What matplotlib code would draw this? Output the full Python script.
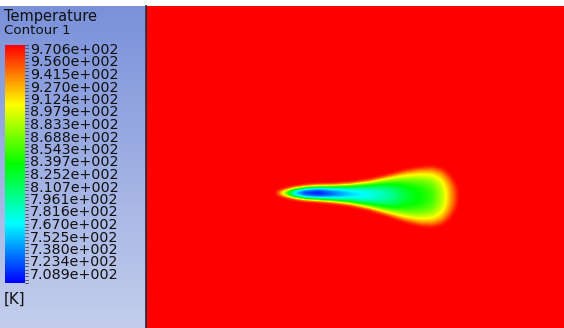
import numpy as np
import matplotlib
matplotlib.use("Agg")
import matplotlib.pyplot as plt
from matplotlib.colors import LinearSegmentedColormap, Normalize

# ---- data ----
legend_title = "Temperature"
legend_sub = "Contour 1"
unit_label = "[K]"
tick_values = [970.6, 956.0, 941.5, 927.0, 912.4, 897.9, 883.3, 868.8, 854.3, 839.7,
               825.2, 810.7, 796.1, 781.6, 767.0, 752.5, 738.0, 723.4, 708.9]
tick_labels = ["9.706e+002", "9.560e+002", "9.415e+002", "9.270e+002", "9.124e+002",
               "8.979e+002", "8.833e+002", "8.688e+002", "8.543e+002", "8.397e+002",
               "8.252e+002", "8.107e+002", "7.961e+002", "7.816e+002", "7.670e+002",
               "7.525e+002", "7.380e+002", "7.234e+002", "7.089e+002"]
t_min, t_max = 708.9, 970.6

# plume description along its axis (domain pixel coordinates)
plume_x = [276, 285, 295, 305, 318, 333, 350, 370, 390, 405, 420, 432, 442, 450, 458]
plume_centre_T = [960, 870, 760, 720, 710, 735, 762, 778, 800, 825, 840, 855, 885, 925, 965]
plume_half_width = [2, 4, 6, 7.5, 8.5, 9.5, 11.5, 15.5, 21.5, 26.5, 30, 31, 29, 23, 11]
plume_centre_y = [193, 193, 193, 193, 193, 193.5, 194, 194.8, 195.5, 196, 196.5, 196.5, 196.5, 196.5, 196.5]

# ---- figure ----
W, H = 564, 328
fig = plt.figure(figsize=(W / 100, H / 100), dpi=100)
ax = fig.add_axes([0, 0, 1, 1])
ax.set_xlim(0, W)
ax.set_ylim(H, 0)
ax.axis("off")

cmap = LinearSegmentedColormap.from_list(
    "ansys_rainbow", ["#0000ff", "#00ffff", "#00ff00", "#ffff00", "#ff0000"])
norm = Normalize(t_min, t_max)

# left panel gradient background
top_c = np.array([122, 145, 218]) / 255
bot_c = np.array([196, 206, 236]) / 255
t = np.linspace(0, 1, 200)[:, None, None]
grad = (top_c * (1 - t) + bot_c * t) * np.ones((1, 2, 1))
ax.imshow(grad, extent=[0, 145, H, 6], aspect="auto", interpolation="bilinear", zorder=0)

# temperature field
x0, x1, y0, y1 = 146, W, 6, H
xs = np.arange(x0, x1) + 0.5
ys = np.arange(y0, y1) + 0.5
X, Y = np.meshgrid(xs, ys)
inside = (xs >= plume_x[0]) & (xs <= plume_x[-1])
tc = np.interp(xs, plume_x, plume_centre_T)
hw = np.interp(xs, plume_x, plume_half_width)
yc = np.interp(xs, plume_x, plume_centre_y)
r = np.abs(Y - yc[None, :]) / hw[None, :]
g = np.clip(1 - r ** 2.3, 0, 1)
g[:, ~inside] = 0
T = t_max - (t_max - tc[None, :]) * g
# slight softening
k = np.exp(-0.5 * (np.arange(-6, 7) / 1.6) ** 2)
k /= k.sum()
T = np.apply_along_axis(lambda v: np.convolve(v, k, mode="same"), 0, T)
T = np.apply_along_axis(lambda v: np.convolve(v, k, mode="same"), 1, T)
T[:8, :] = t_max; T[-8:, :] = t_max; T[:, :8] = t_max; T[:, -8:] = t_max
ax.imshow(T, cmap=cmap, norm=norm, extent=[x0, x1, y1, y0], aspect="auto",
          interpolation="bilinear", zorder=1)

# divider line
ax.plot([145.5, 145.5], [6, H], color="#2a2a3a", lw=1.3, zorder=3)

# colour bar
bar = np.linspace(t_max, t_min, 256)[:, None]
ax.imshow(bar, cmap=cmap, norm=norm, extent=[5, 25, 283, 45], aspect="auto",
          interpolation="bilinear", zorder=2)
label_y = np.linspace(50, 275, len(tick_labels))
for yy, lab in zip(label_y, tick_labels):
    ax.text(30, yy, lab, fontsize=10.3, family="DejaVu Sans", va="center", ha="left",
            color="#111111", zorder=4)
minor_y = np.linspace(45, 283, 4 * (len(tick_labels) - 1) + 1)
for yy in minor_y:
    ax.plot([25, 27.5], [yy, yy], color="#333333", lw=0.5, zorder=4)

ax.text(4, 16.5, legend_title, fontsize=10.5, family="DejaVu Sans", va="center",
        ha="left", color="#111111")
ax.text(4, 30, legend_sub, fontsize=9.6, family="DejaVu Sans", va="center",
        ha="left", color="#111111")
ax.text(4, 299, unit_label, fontsize=10.8, family="DejaVu Sans", va="center",
        ha="left", color="#111111")

fig.savefig("out.png", dpi=100)
